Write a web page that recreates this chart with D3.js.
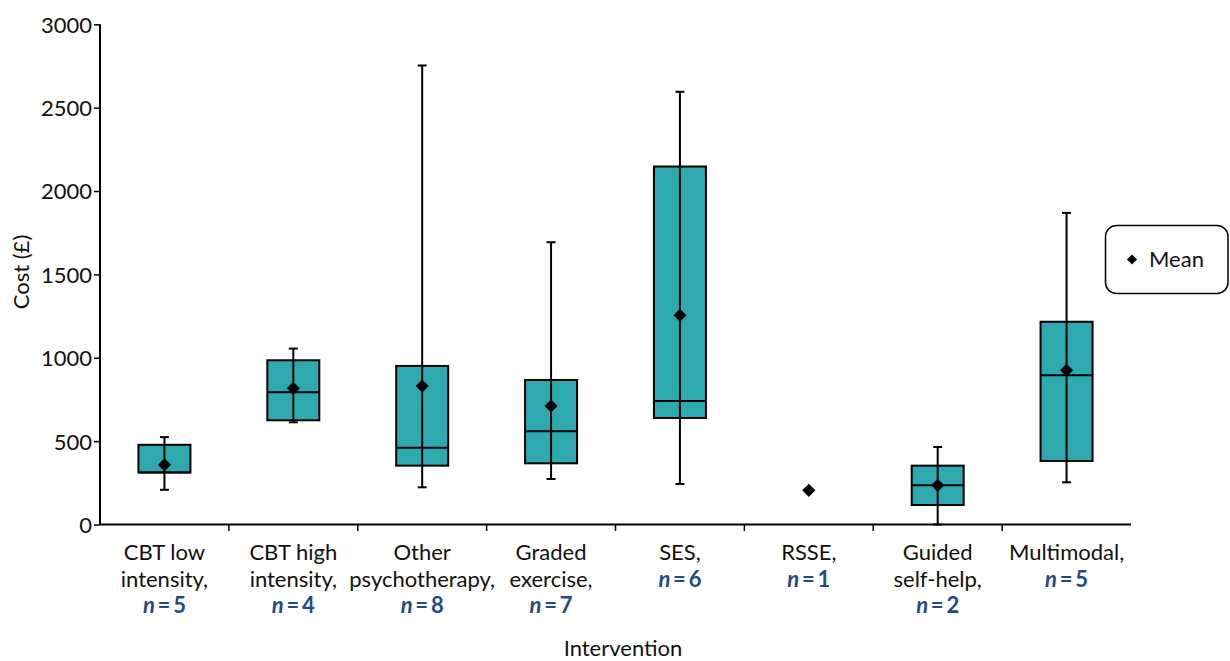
<!DOCTYPE html>
<html><head><meta charset="utf-8">
<script src="https://cdn.jsdelivr.net/npm/d3@7"></script>
<style>body{margin:0;background:#fff}svg{display:block}text{font-family:Lato,"Open Sans",sans-serif}</style>
</head><body><svg id="c" width="1230" height="661"></svg>
<script>
const categories = [["CBT low","intensity,"],["CBT high","intensity,"],["Other","psychotherapy,"],["Graded","exercise,"],["SES,"],["RSSE,"],["Guided","self-help,"],["Multimodal,"]];
const nValues = [5,4,8,7,6,1,2,5];
const whiskerLow = [208,613,223,273,243,null,0,253];
const q1 = [312,625,353,367,639,null,117,381];
const median = [312,793,461,560,741,null,235,895];
const q3 = [478,985,951,867,2147,null,353,1216];
const whiskerHigh = [524,1055,2753,1693,2595,null,465,1869];
const means = [358,817,831,711,1255,205,235,925];
const yTicks = [0,500,1000,1500,2000,2500,3000];

const FS = 22;
const svg = d3.select("#c");
const x = d3.scaleBand().domain(d3.range(categories.length)).range([100,1131]).paddingInner(0).paddingOuter(0);
const y = d3.scaleLinear().domain([0,3000]).range([524.5,24.3]);
const boxW = 52;
const teal = "#2ea9b0";

// y axis
const ya = svg.append("g").attr("transform","translate(100,0)")
  .call(d3.axisLeft(y).tickValues(yTicks).tickSize(6).tickPadding(2).tickFormat(d3.format("d")));
ya.select(".domain").attr("stroke","#000").attr("stroke-width",2).attr("d","M0,24.3V524.5");
ya.selectAll(".tick line").attr("stroke","#000").attr("stroke-width",1.5);
ya.selectAll("text").attr("font-size",FS).attr("fill","#111").style("font-family","Lato").attr("dy","0.36em");

// x axis
const xa = svg.append("g").attr("transform","translate(0,524.5)")
  .call(d3.axisBottom(x).tickSize(0).tickFormat(""));
xa.select(".domain").attr("stroke","#000").attr("stroke-width",2).attr("d","M100,0H1131");
xa.selectAll(".tick").remove();
const bounds = d3.range(1,categories.length).map(i=>x(i));
svg.append("g").selectAll("line").data(bounds).join("line")
  .attr("x1",d=>d).attr("x2",d=>d).attr("y1",524.5).attr("y2",531).attr("stroke","#000").attr("stroke-width",1.5);

// category labels
const lab = svg.append("g");
categories.forEach((lines,i)=>{
  const cx = x(i)+x.bandwidth()/2;
  const t = lab.append("text").attr("x",cx).attr("y",560).attr("text-anchor","middle").attr("font-size",FS).attr("fill","#111");
  lines.forEach((l,k)=>t.append("tspan").attr("x",cx).attr("dy",k===0?0:26.5).text(l));
  const nt = lab.append("text").attr("x",cx).attr("y",560+26.5*lines.length).attr("text-anchor","middle")
    .attr("font-size",FS).attr("fill","#1f4b86").attr("font-weight","bold");
  nt.append("tspan").attr("font-style","italic").text("n");
  nt.append("tspan").text("\u2009=\u2009"+nValues[i]);
});

// axis titles
svg.append("text").attr("x",623).attr("y",656).attr("text-anchor","middle").attr("font-size",FS).attr("fill","#111").text("Intervention");
svg.append("text").attr("transform","translate(29,272) rotate(-90)").attr("text-anchor","middle").attr("font-size",FS).attr("fill","#111").text("Cost (£)");

// boxes
const g = svg.append("g");
categories.forEach((c,i)=>{
  const cx = x(i)+x.bandwidth()/2;
  if(q1[i]!==null){
    g.append("rect").attr("x",cx-boxW/2).attr("y",y(q3[i])).attr("width",boxW).attr("height",y(q1[i])-y(q3[i]))
      .attr("fill",teal).attr("stroke","#000").attr("stroke-width",2);
    g.append("line").attr("x1",cx-boxW/2).attr("x2",cx+boxW/2).attr("y1",y(median[i])).attr("y2",y(median[i])).attr("stroke","#000").attr("stroke-width",2);
    g.append("line").attr("x1",cx).attr("x2",cx).attr("y1",y(whiskerLow[i])).attr("y2",y(whiskerHigh[i])).attr("stroke","#000").attr("stroke-width",2);
    [whiskerLow[i],whiskerHigh[i]].forEach(v=>{
      g.append("line").attr("x1",cx-4.5).attr("x2",cx+4.5).attr("y1",y(v)).attr("y2",y(v)).attr("stroke","#000").attr("stroke-width",2);
    });
  }
  g.append("path").attr("d",d3.symbol(d3.symbolDiamond2,110)()).attr("transform",`translate(${cx},${y(means[i])})`).attr("fill","#000");
});

// legend
const lg = svg.append("g");
lg.append("rect").attr("x",1105.5).attr("y",225.5).attr("width",122.5).attr("height",68).attr("rx",11)
  .attr("fill","#fff").attr("stroke","#000").attr("stroke-width",1.5);
lg.append("path").attr("d",d3.symbol(d3.symbolDiamond2,65)()).attr("transform","translate(1132,259.5)").attr("fill","#000");
lg.append("text").attr("x",1149).attr("y",267).attr("font-size",FS).attr("fill","#111").text("Mean");
</script></body></html>
